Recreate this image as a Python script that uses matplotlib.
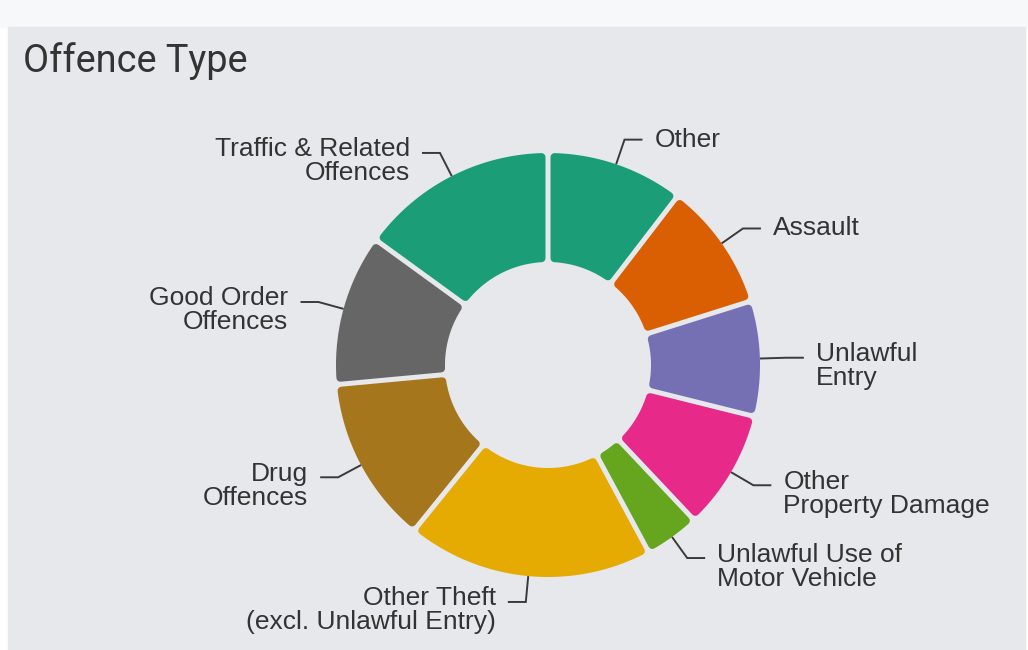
import numpy as np
import matplotlib.pyplot as plt
from matplotlib.patches import Polygon, Rectangle

# slices, clockwise from 12 o'clock
labels = ["Other", "Assault", "Unlawful\nEntry", "Other\nProperty Damage",
          "Unlawful Use of\nMotor Vehicle", "Other Theft\n(excl. Unlawful Entry)",
          "Drug\nOffences", "Good Order\nOffences", "Traffic & Related\nOffences"]
values = [375, 350, 315, 327, 150, 673, 457, 413, 540]
colors = ["#1b9e77", "#d95f02", "#7570b3", "#e7298a", "#66a61e",
          "#e6ab02", "#a6761d", "#666666", "#1b9e77"]

W, H = 1028, 650
cx, cy = 548, 365
r_out, r_in = 212, 103
gap, rc = 5, 4   # gap between slices, corner rounding (px)

fig = plt.figure(figsize=(W / 100, H / 100), dpi=100)
ax = fig.add_axes([0, 0, 1, 1])
ax.set_xlim(0, W)
ax.set_ylim(H, 0)
ax.axis("off")
fig.patch.set_facecolor("white")

ax.add_patch(Rectangle((0, 0), W, 27, color="#f7f8fa", zorder=0))
ax.add_patch(Rectangle((8, 27), W - 11, H - 27, color="#e7e8ec", zorder=0))

ax.text(23, 72, "Offence Type", fontsize=27.3, family=["Roboto", "DejaVu Sans"],
        color="#333333", va="baseline", ha="left")


def pt(r, a):
    a = np.radians(a)
    return cx + r * np.sin(a), cy - r * np.cos(a)


def ring_piece(a1, a2, ro, ri, d):
    # offset the radial edges by d px so the gap has constant width
    pts = []
    do = np.degrees(np.arcsin(d / ro))
    di = np.degrees(np.arcsin(d / ri))
    for a in np.linspace(a1 + do, a2 - do, 80):
        pts.append(pt(ro, a))
    for a in np.linspace(a2 - di, a1 + di, 40):
        pts.append(pt(ri, a))
    return np.array(pts)


tot = sum(values)
start = 0.0
lw = 2 * rc * 0.72
for lab, v, c in zip(labels, values, colors):
    span = 360.0 * v / tot
    a1, a2 = start, start + span
    poly = ring_piece(a1, a2, r_out - rc, r_in + rc, gap / 2 + rc)
    ax.add_patch(Polygon(poly, closed=True, facecolor=c, edgecolor=c,
                         linewidth=lw, joinstyle="round", zorder=2))

    # connector + label
    mid = (a1 + a2) / 2
    x0, y0 = pt(r_out + 1, mid)
    x1, y1 = pt(238, mid)
    right = mid < 180
    sgn = 1 if right else -1
    x2 = x1 + sgn * 17
    ax.plot([x0, x1, x2], [y0, y1, y1], color="#3a3a3a", lw=1.4,
            solid_joinstyle="miter", zorder=3)
    nl = lab.count("\n")
    ax.text(x2 + sgn * 13, y1 + nl * 8.5, lab, fontsize=19,
            family=["Liberation Sans", "DejaVu Sans"], color="#333333",
            ha="left" if right else "right", va="center",
            multialignment="left" if right else "right", linespacing=1.0)
    start = a2

fig.savefig("out.png", dpi=100, facecolor=fig.get_facecolor())
